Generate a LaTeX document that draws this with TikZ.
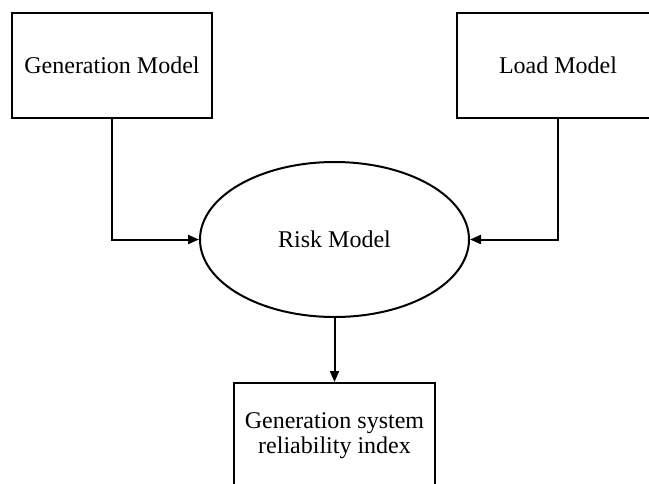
\documentclass[tikz,border=0pt]{standalone}
\usepackage{fontspec}
\setmainfont{Liberation Serif}
\usetikzlibrary{shapes.geometric,arrows.meta}

\tikzset{
  modelbox/.style={draw, line width=2pt, rectangle, minimum width=200pt,
    minimum height=105pt, inner sep=0pt, align=center,
    font=\fontsize{24}{25}\selectfont},
  riskellipse/.style={draw, line width=2pt, ellipse, minimum width=269pt,
    minimum height=155pt, inner sep=0pt, font=\fontsize{24}{25}\selectfont},
  flow/.style={line width=2pt, -{Triangle[length=11pt,width=9pt]}},
}

\begin{document}
\begin{tikzpicture}[x=1pt, y=-1pt]
  \useasboundingbox (0,0) rectangle (649,483);
  \clip (0,0) rectangle (649,483);

  % input models
  \node[modelbox] (gen)  at (112,65.5) {Generation Model};
  \node[modelbox, minimum width=202pt] (load) at (558,65.5) {Load Model};

  % combined risk model
  \node[riskellipse] (risk) at (334.5,239.5) {Risk Model};

  % output index (box runs past the lower edge)
  \node[modelbox, minimum width=201pt, minimum height=106pt] (idx) at (334.5,436)
    {Generation system\\reliability index};

  % connectors
  \draw[flow] (gen.south) |- (risk.west);
  \draw[flow] (load.south) |- (risk.east);
  \draw[flow] (risk.south) -- (idx.north);
\end{tikzpicture}
\end{document}
